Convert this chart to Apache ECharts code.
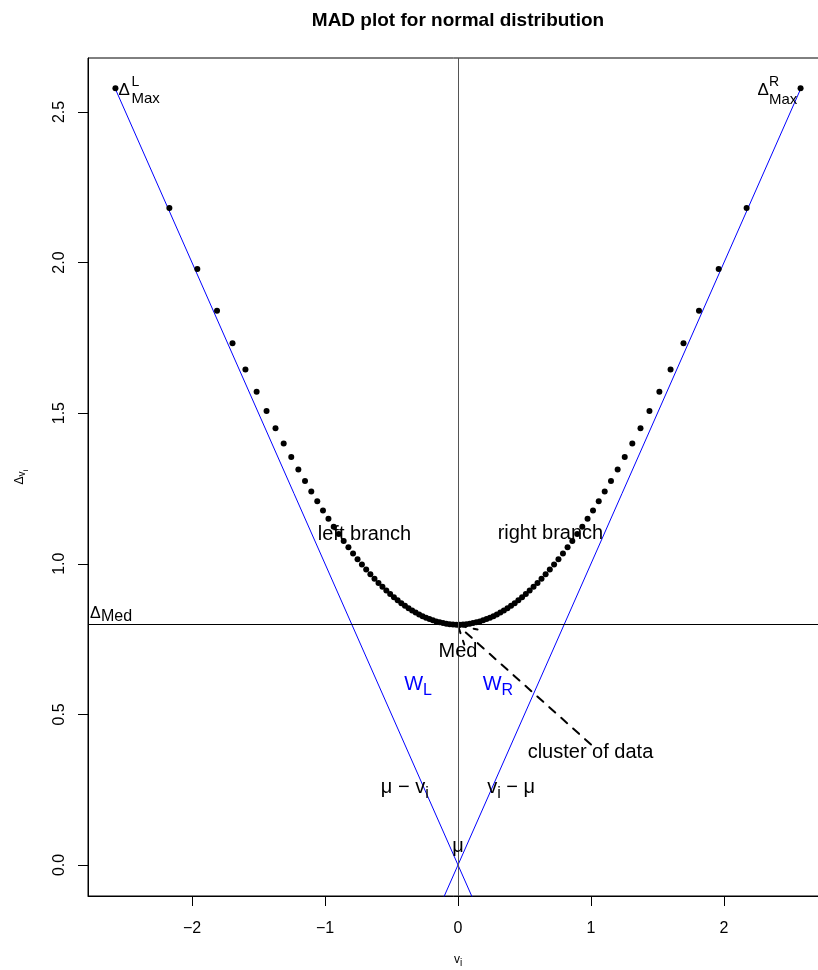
<!DOCTYPE html>
<html>
<head>
<meta charset="utf-8">
<title>MAD plot for normal distribution</title>
<script src="https://cdn.jsdelivr.net/npm/echarts@6/dist/echarts.min.js"></script>
<style>
  html, body { margin: 0; padding: 0; background: #fff; }
  #chart { width: 818px; height: 970px; }
</style>
</head>
<body>
<div id="chart"></div>
<script>
// quantiles v_i of the normal distribution (left and right half) and their MAD values
const vLeft = [-2.5758, -2.1701, -1.9600, -1.8119, -1.6954, -1.5982, -1.5141, -1.4395, -1.3722, -1.3106,
  -1.2536, -1.2004, -1.1503, -1.1031, -1.0581, -1.0152, -0.9741, -0.9346, -0.8965, -0.8596,
  -0.8239, -0.7892, -0.7554, -0.7225, -0.6903, -0.6588, -0.6280, -0.5978, -0.5681, -0.5388,
  -0.5101, -0.4817, -0.4538, -0.4261, -0.3989, -0.3719, -0.3451, -0.3186, -0.2924, -0.2663,
  -0.2404, -0.2147, -0.1891, -0.1637, -0.1383, -0.1130, -0.0878, -0.0627, -0.0376, -0.0125];
const dLeft = [2.5789, 2.1808, 1.9789, 1.8396, 1.7324, 1.6449, 1.5709, 1.5067, 1.4501, 1.3996,
  1.3540, 1.3125, 1.2744, 1.2395, 1.2071, 1.1771, 1.1491, 1.1230, 1.0987, 1.0758,
  1.0544, 1.0342, 1.0153, 0.9975, 0.9808, 0.9651, 0.9503, 0.9363, 0.9233, 0.9110,
  0.8995, 0.8887, 0.8786, 0.8692, 0.8605, 0.8524, 0.8450, 0.8381, 0.8318, 0.8260,
  0.8209, 0.8162, 0.8121, 0.8085, 0.8055, 0.8030, 0.8010, 0.7995, 0.7984, 0.7979];
const vRight = [0.0125, 0.0376, 0.0627, 0.0878, 0.1130, 0.1383, 0.1637, 0.1891, 0.2147, 0.2404,
  0.2663, 0.2924, 0.3186, 0.3451, 0.3719, 0.3989, 0.4261, 0.4538, 0.4817, 0.5101,
  0.5388, 0.5681, 0.5978, 0.6280, 0.6588, 0.6903, 0.7225, 0.7554, 0.7892, 0.8239,
  0.8596, 0.8965, 0.9346, 0.9741, 1.0152, 1.0581, 1.1031, 1.1503, 1.2004, 1.2536,
  1.3106, 1.3722, 1.4395, 1.5141, 1.5982, 1.6954, 1.8119, 1.9600, 2.1701, 2.5758];
const dRight = [0.7979, 0.7984, 0.7995, 0.8010, 0.8030, 0.8055, 0.8085, 0.8121, 0.8162, 0.8209,
  0.8260, 0.8318, 0.8381, 0.8450, 0.8524, 0.8605, 0.8692, 0.8786, 0.8887, 0.8995,
  0.9110, 0.9233, 0.9363, 0.9503, 0.9651, 0.9808, 0.9975, 1.0153, 1.0342, 1.0544,
  1.0758, 1.0987, 1.1230, 1.1491, 1.1771, 1.2071, 1.2395, 1.2744, 1.3125, 1.3540,
  1.3996, 1.4501, 1.5067, 1.5709, 1.6449, 1.7324, 1.8396, 1.9789, 2.1808, 2.5789];

const deltaMed = 0.7979;
const mu = 0;
const xTicks = [-2, -1, 0, 1, 2];
const yTicks = [0, 0.5, 1, 1.5, 2, 2.5];
const xRange = [-2.782, 2.782];
const yRange = [-0.103, 2.679];
// the two blue branches  mu - v  and  v - mu
const lineLeft = [[-2.5758, 2.5758], [0.3, -0.3]];
const lineRight = [[2.5758, 2.5758], [-0.3, -0.3]];
// dashed arrow: "cluster of data" -> Med
const arrowFrom = [1.0, 0.4];
const arrowTo = [0.0, 0.795];

const FONT = '"Liberation Sans", Arial, Helvetica, sans-serif';

// rich styles: main text n, subscript s, second level subscript s2
// all tokens top aligned; the top padding drops a token so its baseline lands where it should
function richSet(size, color) {
    const sub = Math.round(size * 0.8);
    const sub2 = Math.round(size * 0.65);
    const tok = (fs, drop) => ({
        fontSize: fs, fontFamily: FONT, color: color, verticalAlign: 'top', height: fs,
        padding: [Math.max(0, 0.85 * size + drop - 0.85 * fs), 0, 0, 0]
    });
    return {
        base: 0.85 * size,
        rich: { n: tok(size, 0), s: tok(sub, 0.22 * size), s2: tok(sub2, 0.45 * size) }
    };
}

// text note with its baseline at (x, y) + (dx, dy) pixels
function note(x, y, text, size, opt) {
    opt = opt || {};
    const r = richSet(size, opt.color || '#000');
    return {
        value: [x, y],
        label: {
            show: true,
            position: 'inside',
            align: opt.align || 'center',
            verticalAlign: 'top',
            offset: [opt.dx || 0, (opt.dy || 0) - r.base + 1.5],
            formatter: text,
            rich: r.rich
        }
    };
}

const notes = [
    note(-0.703, 1.079, '{n|left branch}', 20),
    note(0.695, 1.082, '{n|right branch}', 20),
    note(0, 0.691, '{n|Med}', 20),
    note(0.996, 0.356, '{n|cluster of data}', 20),
    note(0, 0.043, '{n|\u03bc}', 20),
    note(-0.30, 0.581, '{n|W}{s|L}', 20, { color: '#0000ff' }),
    note(0.30, 0.581, '{n|W}{s|R}', 20, { color: '#0000ff' }),
    note(-0.40, 0.238, '{n|\u03bc \u2212 v}{s|i}', 20),
    note(0.40, 0.238, '{n|v}{s|i}{n| \u2212 \u03bc}', 20),
    // Delta max, left
    note(vLeft[0], dLeft[0], '{n|\u0394}', 17, { align: 'left', dx: 3, dy: 7 }),
    note(vLeft[0], dLeft[0], '{n|L}', 14, { align: 'left', dx: 16, dy: -3 }),
    note(vLeft[0], dLeft[0], '{n|Max}', 15, { align: 'left', dx: 16, dy: 14 }),
    // Delta max, right
    note(vRight[49], dRight[49], '{n|\u0394}', 17, { align: 'right', dx: -31.6, dy: 7 }),
    note(vRight[49], dRight[49], '{n|R}', 14, { align: 'left', dx: -31.6, dy: -3 }),
    note(vRight[49], dRight[49], '{n|Max}', 15, { align: 'left', dx: -31.6, dy: 15 }),
    // Delta med
    note(xRange[0], deltaMed, '{n|\u0394}', 16, { align: 'left', dx: 2, dy: -7 }),
    note(xRange[0], deltaMed, '{n|Med}', 16, { align: 'left', dx: 13, dy: -4 })
];

const xName = richSet(12, '#000');
const yName = richSet(12, '#000');

const chart = echarts.init(document.getElementById('chart'));
const option = {
    animation: false,
    backgroundColor: '#fff',
    title: {
        text: 'MAD plot for normal distribution',
        left: 453,
        top: 6,
        textAlign: 'center',
        textStyle: { fontSize: 19, fontWeight: 'bold', color: '#000', fontFamily: FONT }
    },
    grid: {
        left: 88, right: -10, top: 58, bottom: 74,
        show: true, borderColor: '#000', borderWidth: 1,
        outerBoundsMode: 'none'
    },
    xAxis: {
        type: 'value',
        min: xRange[0], max: xRange[1],
        axisLine: { show: true, onZero: false, lineStyle: { color: '#000', width: 1 } },
        axisTick: { show: true, length: 10, customValues: xTicks, lineStyle: { color: '#000' } },
        axisLabel: {
            customValues: xTicks, margin: 25, fontSize: 16, color: '#000', fontFamily: FONT,
            formatter: v => (v < 0 ? '\u2212' + Math.abs(v) : String(v))
        },
        splitLine: { show: false },
        name: '{n|v}{s|i}',
        nameLocation: 'middle',
        nameGap: 58,
        nameTextStyle: { rich: xName.rich }
    },
    yAxis: {
        type: 'value',
        min: yRange[0], max: yRange[1],
        axisLine: { show: true, onZero: false, lineStyle: { color: '#000', width: 1 } },
        axisTick: { show: true, length: 10, customValues: yTicks, lineStyle: { color: '#000' } },
        axisLabel: {
            customValues: yTicks, rotate: 90, margin: 20, fontSize: 16, color: '#000', fontFamily: FONT,
            formatter: v => v.toFixed(1)
        },
        splitLine: { show: false },
        name: '{n|\u0394}{s|v}{s2|i}',
        nameLocation: 'middle',
        nameGap: 58,
        nameTextStyle: { rich: yName.rich }
    },
    series: [
        {
            name: 'left branch line',
            type: 'line',
            data: lineLeft,
            symbol: 'none',
            silent: true,
            lineStyle: { color: '#0000ff', width: 1 }
        },
        {
            name: 'right branch line',
            type: 'line',
            data: lineRight,
            symbol: 'none',
            silent: true,
            lineStyle: { color: '#0000ff', width: 1 }
        },
        {
            name: 'MAD',
            type: 'scatter',
            data: vLeft.map((v, i) => [v, dLeft[i]]).concat(vRight.map((v, i) => [v, dRight[i]])),
            symbolSize: 6,
            itemStyle: { color: '#000', opacity: 1 },
            silent: true,
            z: 3,
            markLine: {
                silent: true,
                symbol: 'none',
                label: { show: false },
                lineStyle: { color: '#000', width: 1, type: 'solid' },
                data: [
                    { yAxis: deltaMed },
                    { xAxis: mu, lineStyle: { color: '#555', width: 1, type: 'solid' } }
                ]
            }
        },
        {
            name: 'arrow',
            type: 'custom',
            silent: true,
            data: [arrowFrom.concat(arrowTo)],
            renderItem: function (params, api) {
                const a = api.coord([api.value(0), api.value(1)]);
                const b = api.coord([api.value(2), api.value(3)]);
                const ang = Math.atan2(a[1] - b[1], a[0] - b[0]);
                const len = 20;
                const h = Math.PI / 6;
                const st = { stroke: '#000', lineWidth: 2, lineDash: [8, 8], lineCap: 'round', fill: null };
                return {
                    type: 'group',
                    children: [
                        { type: 'line', shape: { x1: a[0], y1: a[1], x2: b[0], y2: b[1] }, style: st },
                        { type: 'line', shape: { x1: b[0], y1: b[1], x2: b[0] + len * Math.cos(ang + h), y2: b[1] + len * Math.sin(ang + h) }, style: st },
                        { type: 'line', shape: { x1: b[0], y1: b[1], x2: b[0] + len * Math.cos(ang - h), y2: b[1] + len * Math.sin(ang - h) }, style: st }
                    ]
                };
            }
        },
        {
            name: 'notes',
            type: 'scatter',
            data: notes,
            symbolSize: 0,
            itemStyle: { color: 'rgba(0,0,0,0)', opacity: 1 },
            silent: true,
            clip: false,
            z: 5
        }
    ]
};
chart.setOption(option);
</script>
</body>
</html>
